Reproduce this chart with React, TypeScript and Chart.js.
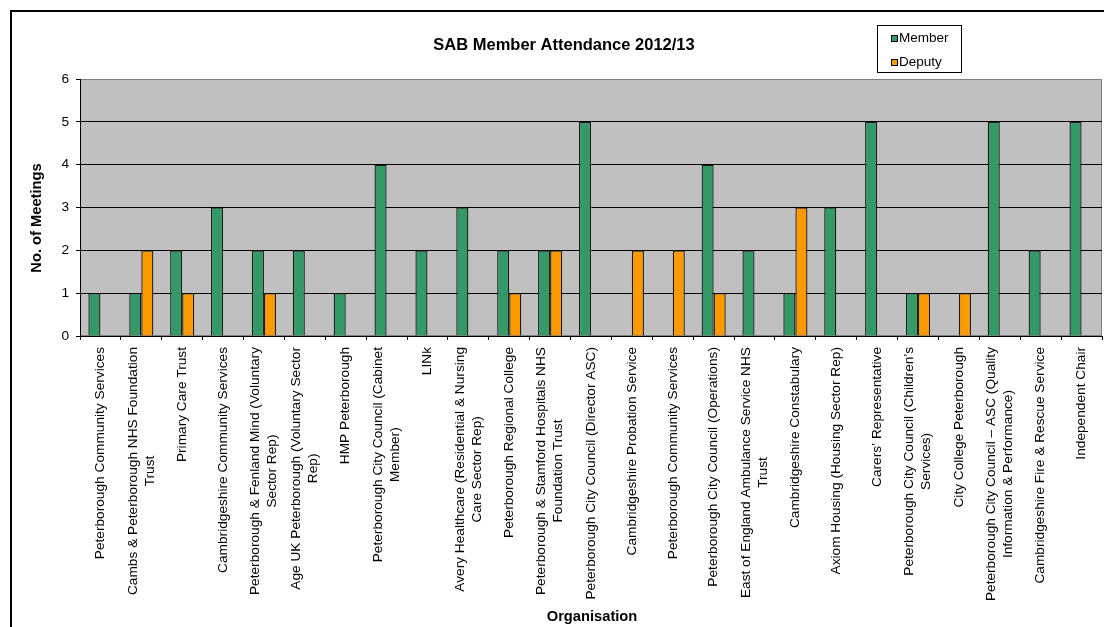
import React, { useEffect, useRef } from "react";
import { Chart, registerables } from "chart.js";

Chart.register(...registerables);

const FONT = "'Liberation Sans', Arial, sans-serif";

const chartTitle = "SAB Member Attendance 2012/13";
const xAxisTitle = "Organisation";
const yAxisTitle = "No. of Meetings";
const seriesNames = ["Member", "Deputy"];
const seriesColors = ["#339966", "#FF9900"];

const categories: string[][] = [
  ["Peterborough Community Services"],
  ["Cambs & Peterborough NHS Foundation", "Trust"],
  ["Primary Care Trust"],
  ["Cambridgeshire Community Services"],
  ["Peterborough & Fenland Mind (Voluntary", "Sector Rep)"],
  ["Age UK Peterborough (Voluntary Sector", "Rep)"],
  ["HMP Peterborough"],
  ["Peterborough City Council (Cabinet", "Member)"],
  ["LINk"],
  ["Avery Healthcare (Residential & Nursing", "Care Sector Rep)"],
  ["Peterborough Regional College"],
  ["Peterborough & Stamford Hospitals NHS", "Foundation Trust"],
  ["Peterborough City Council (Director ASC)"],
  ["Cambridgeshire Probation Service"],
  ["Peterborough Community Services"],
  ["Peterborough City Council (Operations)"],
  ["East of England Ambulance Service NHS", "Trust"],
  ["Cambridgeshire Constabulary"],
  ["Axiom Housing (Housing Sector Rep)"],
  ["Carers\u2019 Representative"],
  ["Peterborough City Council (Children\u2019s", "Services)"],
  ["City College Peterborough"],
  ["Peterborough City Council \u2013 ASC (Quality", "Information & Performance)"],
  ["Cambridgeshire Fire & Rescue Service"],
  ["Independent Chair"],
];

const memberValues = [1, 1, 2, 3, 2, 2, 1, 4, 2, 3, 2, 2, 5, 0, 0, 4, 2, 1, 3, 5, 1, 0, 5, 2, 5];
const deputyValues = [0, 2, 1, 0, 1, 0, 0, 0, 0, 0, 1, 2, 0, 2, 2, 1, 0, 3, 0, 0, 1, 1, 0, 0, 0];

const yMin = 0;
const yMax = 6;
const yStep = 1;

export default function App() {
  const ref = useRef<HTMLCanvasElement>(null);

  useEffect(() => {
    const canvas = ref.current;
    if (!canvas) return;

    const decor = {
      id: "decor",
      beforeDraw(chart: any) {
        const { ctx, chartArea: a } = chart;
        ctx.save();
        ctx.fillStyle = "#C0C0C0";
        ctx.fillRect(a.left, a.top, a.right - a.left, a.bottom - a.top);
        ctx.strokeStyle = "#808080";
        ctx.lineWidth = 1;
        ctx.strokeRect(a.left + 0.5, a.top + 0.5, a.right - a.left - 1, a.bottom - a.top - 1);
        ctx.restore();
      },
      afterDraw(chart: any) {
        const { ctx, chartArea: a, scales } = chart;
        const xs = scales.x;
        ctx.save();
        ctx.fillStyle = "#000";

        // chart title
        ctx.font = `bold 16.5px ${FONT}`;
        ctx.textAlign = "center";
        ctx.textBaseline = "alphabetic";
        ctx.fillText(chartTitle, (a.left + a.right) / 2 - 27, 49.5);

        // category labels (rotated, multi-line centred)
        ctx.font = `13.7px ${FONT}`;
        categories.forEach((lines, i) => {
          const x = xs.getPixelForTick(i);
          const maxW = Math.max(...lines.map((l) => ctx.measureText(l).width));
          ctx.save();
          ctx.translate(x, a.bottom + 11);
          ctx.rotate(-Math.PI / 2);
          ctx.textAlign = "center";
          ctx.textBaseline = "middle";
          lines.forEach((l, j) => {
            ctx.fillText(l, -maxW / 2, (j - (lines.length - 1) / 2) * 17);
          });
          ctx.restore();
        });

        // x axis title
        ctx.font = `bold 14.7px ${FONT}`;
        ctx.textAlign = "center";
        ctx.textBaseline = "alphabetic";
        ctx.fillText(xAxisTitle, (a.left + a.right) / 2 + 1, 621);

        // y axis title
        ctx.save();
        ctx.translate(a.left - 39.5, (a.top + a.bottom) / 2 + 10.5);
        ctx.rotate(-Math.PI / 2);
        ctx.textAlign = "center";
        ctx.textBaseline = "alphabetic";
        ctx.fillText(yAxisTitle, 0, 0);
        ctx.restore();

        // legend
        ctx.lineWidth = 1;
        ctx.strokeStyle = "#000";
        ctx.fillStyle = "#fff";
        ctx.fillRect(877.5, 25.5, 84, 47);
        ctx.strokeRect(877.5, 25.5, 84, 47);
        ctx.font = `13.5px ${FONT}`;
        seriesNames.forEach((name, k) => {
          const cy = 38 + k * 24;
          ctx.fillStyle = seriesColors[k];
          ctx.fillRect(891, cy - 3, 7, 7);
          ctx.strokeRect(891.5, cy - 2.5, 6, 6);
          ctx.fillStyle = "#000";
          ctx.textAlign = "left";
          ctx.textBaseline = "middle";
          ctx.fillText(name, 899, cy + 0.5);
        });

        ctx.restore();
      },
    };

    const chart = new Chart(canvas, {
      type: "bar",
      data: {
        labels: categories.map((c) => c.join(" ")),
        datasets: [
          {
            label: seriesNames[0],
            data: memberValues,
            backgroundColor: seriesColors[0],
            borderColor: "#1a1a1a",
            borderWidth: 1.3,
            categoryPercentage: 0.59,
            barPercentage: 1.0,
          },
          {
            label: seriesNames[1],
            data: deputyValues,
            backgroundColor: seriesColors[1],
            borderColor: "#1a1a1a",
            borderWidth: 1.3,
            categoryPercentage: 0.59,
            barPercentage: 1.0,
          },
        ],
      },
      options: {
        responsive: false,
        animation: false,
        devicePixelRatio: 1,
        layout: { padding: { left: 60, right: 2, top: 79, bottom: 287 } },
        plugins: {
          legend: { display: false },
          title: { display: false },
          tooltip: { enabled: false },
        },
        scales: {
          x: {
            type: "category",
            offset: true,
            grid: {
              offset: true,
              drawOnChartArea: false,
              drawTicks: true,
              tickLength: 4,
              color: "#000",
              tickColor: "#000",
            },
            border: { display: true, color: "#000", width: 1 },
            ticks: { display: false },
            afterFit: (s: any) => {
              s.height = 4;
            },
          },
          y: {
            min: yMin,
            max: yMax,
            grid: {
              color: (c: any) => (c.tick && c.tick.value === yMax ? "#808080" : "#000"),
              tickColor: "#000",
              tickLength: 4,
              drawTicks: true,
            },
            border: { display: true, color: "#000", width: 1 },
            ticks: {
              stepSize: yStep,
              padding: 7,
              color: "#000",
              font: { family: FONT, size: 13.7 },
            },
            afterFit: (s: any) => {
              s.width = 20;
            },
          },
        },
      },
      plugins: [decor],
    });

    return () => chart.destroy();
  }, []);

  return (
    <div
      style={{
        position: "fixed",
        left: 0,
        top: 0,
        width: 1104,
        height: 627,
        background: "#fff",
        overflow: "hidden",
      }}
    >
      <div
        style={{
          position: "absolute",
          left: 10,
          top: 10,
          width: 1100,
          height: 620,
          borderTop: "2px solid #000",
          borderLeft: "2px solid #000",
        }}
      />
      <canvas
        ref={ref}
        width={1104}
        height={627}
        style={{ position: "absolute", left: 0, top: 0 }}
      />
    </div>
  );
}
